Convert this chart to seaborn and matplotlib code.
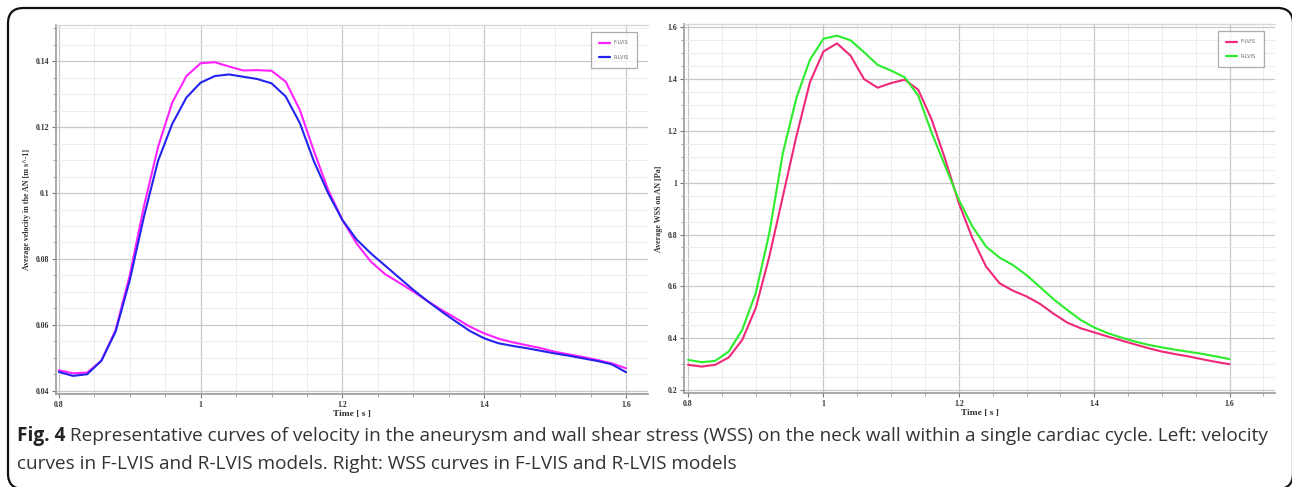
import numpy as np
import pandas as pd
import matplotlib
matplotlib.use("Agg")
import matplotlib.pyplot as plt
import seaborn as sns
from matplotlib.patches import FancyBboxPatch
from matplotlib.ticker import MultipleLocator
from matplotlib.lines import Line2D

# ---------------- data ----------------
time = [0.80, 0.82, 0.84, 0.86, 0.88, 0.90, 0.92, 0.94, 0.96, 0.98,
        1.00, 1.02, 1.04, 1.06, 1.08, 1.10, 1.12, 1.14, 1.16, 1.18,
        1.20, 1.22, 1.24, 1.26, 1.28, 1.30, 1.32, 1.34, 1.36, 1.38,
        1.40, 1.42, 1.44, 1.46, 1.48, 1.50, 1.52, 1.54, 1.56, 1.58, 1.60]

vel_f = [0.0462, 0.0453, 0.0455, 0.0491, 0.0584, 0.0750, 0.0959, 0.1140, 0.1275, 0.1355,
         0.1394, 0.1397, 0.1384, 0.1372, 0.1373, 0.1371, 0.1338, 0.1252, 0.1126, 0.1009,
         0.0918, 0.0847, 0.0792, 0.0754, 0.0728, 0.0701, 0.0672, 0.0645, 0.0620, 0.0594,
         0.0574, 0.0558, 0.0547, 0.0538, 0.0529, 0.0518, 0.0510, 0.0502, 0.0493, 0.0483, 0.0468]

vel_r = [0.0457, 0.0445, 0.0450, 0.0491, 0.0579, 0.0735, 0.0928, 0.1098, 0.1210, 0.1290,
         0.1335, 0.1355, 0.1360, 0.1353, 0.1346, 0.1333, 0.1293, 0.1212, 0.1095, 0.0999,
         0.0918, 0.0859, 0.0817, 0.0780, 0.0743, 0.0706, 0.0672, 0.0640, 0.0610, 0.0581,
         0.0559, 0.0544, 0.0536, 0.0529, 0.0521, 0.0513, 0.0506, 0.0498, 0.0490, 0.0480, 0.0456]

wss_f = [0.297, 0.290, 0.297, 0.325, 0.393, 0.516, 0.715, 0.947, 1.179, 1.388,
         1.507, 1.538, 1.491, 1.400, 1.367, 1.385, 1.398, 1.359, 1.243, 1.089,
         0.921, 0.786, 0.677, 0.612, 0.583, 0.561, 0.532, 0.494, 0.460, 0.438,
         0.422, 0.406, 0.391, 0.376, 0.361, 0.348, 0.338, 0.329, 0.318, 0.308, 0.299]

wss_r = [0.316, 0.307, 0.312, 0.348, 0.432, 0.574, 0.805, 1.114, 1.327, 1.475,
         1.556, 1.568, 1.550, 1.504, 1.455, 1.433, 1.407, 1.336, 1.192, 1.063,
         0.934, 0.831, 0.754, 0.711, 0.682, 0.643, 0.597, 0.550, 0.509, 0.470,
         0.441, 0.419, 0.402, 0.387, 0.374, 0.364, 0.355, 0.347, 0.339, 0.329, 0.319]

series_names = ["F-LVIS", "R-LVIS"]
x_ticks = [0.8, 1.0, 1.2, 1.4, 1.6]
x_tick_labels = ["0.8", "1", "1.2", "1.4", "1.6"]
vel_ticks = [0.04, 0.06, 0.08, 0.10, 0.12, 0.14]
vel_tick_labels = ["0.04", "0.06", "0.08", "0.1", "0.12", "0.14"]
wss_ticks = [0.2, 0.4, 0.6, 0.8, 1.0, 1.2, 1.4, 1.6]
wss_tick_labels = ["0.2", "0.4", "0.6", "0.8", "1", "1.2", "1.4", "1.6"]

xlabel = "Time [ s ]"
vel_ylabel = "Average velocity in the AN [m s^-1]"
wss_ylabel = "Average WSS on AN [Pa]"
caption_bold = "Fig. 4"
caption_line1 = (" Representative curves of velocity in the aneurysm and wall shear stress (WSS) "
                 "on the neck wall within a single cardiac cycle. Left: velocity")
caption_line2 = "curves in F-LVIS and R-LVIS models. Right: WSS curves in F-LVIS and R-LVIS models"

# ---------------- style ----------------
sns.set_theme(style="white")
plt.rcParams["font.family"] = ["Liberation Serif", "DejaVu Serif"]

W, H = 1292, 487
fig = plt.figure(figsize=(W / 100, H / 100), dpi=100)
fig.patch.set_facecolor("white")


def ax_rect(l, t, r, b):
    return [l / W, 1 - b / H, (r - l) / W, (b - t) / H]


def style_axes(ax, xlim, xminor, yminor, ticks, tick_labels, ylim):
    ax.set_xlim(*xlim)
    ax.set_ylim(*ylim)
    ax.set_xticks(x_ticks)
    ax.set_xticklabels(x_tick_labels)
    ax.set_yticks(ticks)
    ax.set_yticklabels(tick_labels)
    ax.xaxis.set_minor_locator(MultipleLocator(xminor))
    ax.yaxis.set_minor_locator(MultipleLocator(yminor))
    ax.grid(True, which="major", color="#c8c8c8", linewidth=0.9)
    ax.grid(True, which="minor", color="#ececec", linewidth=0.7)
    ax.set_axisbelow(True)
    for s in ["left", "bottom"]:
        ax.spines[s].set_color("#9a9a9a")
        ax.spines[s].set_linewidth(1.2)
    ax.spines["top"].set_color("#d8d8d8")
    ax.spines["top"].set_linewidth(1.0)
    ax.spines["right"].set_visible(False)
    ax.tick_params(axis="both", which="major", length=3, width=0.8, color="#777777",
                   labelsize=5.6, pad=2, direction="out", bottom=True, left=True)
    ax.tick_params(axis="both", which="minor", length=2, width=0.6, color="#999999",
                   direction="out", bottom=True, left=True)
    for lab in ax.get_xticklabels() + ax.get_yticklabels():
        lab.set_fontweight("bold")
        lab.set_color("#333333")
    ax.set_xlabel(xlabel, fontsize=6.8, fontweight="bold", color="#333333", labelpad=0.5)


def draw(ax, y_f, y_r, colors, ylabel):
    df = pd.DataFrame({
        "time": time * 2,
        "value": list(y_f) + list(y_r),
        "model": [series_names[0]] * len(time) + [series_names[1]] * len(time),
    })
    sns.lineplot(data=df, x="time", y="value", hue="model", palette=colors,
                 linewidth=1.5, ax=ax, legend=False, sort=False)
    ax.set_ylabel(ylabel, fontsize=5.8, fontweight="bold", color="#333333", labelpad=3)
    handles = [Line2D([], [], color=colors[n], lw=1.6) for n in series_names]
    leg = ax.legend(handles, series_names, loc="upper right", bbox_to_anchor=(0.981, 0.981),
                    prop={"family": "DejaVu Sans", "size": 3.5}, frameon=True, fancybox=False,
                    handlelength=2.4, borderpad=1.7, labelspacing=1.9, handletextpad=0.6,
                    borderaxespad=0.0)
    leg.get_frame().set_edgecolor("#999999")
    leg.get_frame().set_linewidth(0.9)
    for t in leg.get_texts():
        t.set_color("#666666")


ax1 = fig.add_axes(ax_rect(56, 25, 648, 394))
draw(ax1, vel_f, vel_r, {"F-LVIS": "#ff22ff", "R-LVIS": "#2424ee"}, vel_ylabel)
style_axes(ax1, (0.796, 1.631), 0.05, 0.005, vel_ticks, vel_tick_labels, (0.0390, 0.151))

ax2 = fig.add_axes(ax_rect(684, 24, 1275, 393))
draw(ax2, wss_f, wss_r, {"F-LVIS": "#f0287a", "R-LVIS": "#2cec2c"}, wss_ylabel)
style_axes(ax2, (0.794, 1.667), 0.05, 0.05, wss_ticks, wss_tick_labels, (0.188, 1.613))

# rounded border (right/bottom edges fall on the image edge)
border = FancyBboxPatch((8 / W, 1 - 489 / H), (1293 - 8) / W, (489 - 8) / H,
                        boxstyle="round,pad=0,rounding_size=0.012",
                        transform=fig.transFigure, facecolor="none",
                        edgecolor="#111111", linewidth=1.6, clip_on=False,
                        mutation_aspect=W / H)
fig.add_artist(border)

cap_font = ["Open Sans", "DejaVu Sans"]
cap_size = 13.7
t = fig.text(17 / W, 1 - 436 / H, caption_bold, fontsize=cap_size, fontweight="bold",
             color="#222222", family=cap_font, va="center", ha="left")
fig.canvas.draw()
bb = t.get_window_extent()
fig.text(bb.x1 / W, 1 - 436 / H, caption_line1, fontsize=cap_size, color="#333333",
         family=cap_font, va="center", ha="left")
fig.text(17 / W, 1 - 464 / H, caption_line2, fontsize=cap_size, color="#333333",
         family=cap_font, va="center", ha="left")

fig.savefig("out.png", dpi=100, facecolor="white")
